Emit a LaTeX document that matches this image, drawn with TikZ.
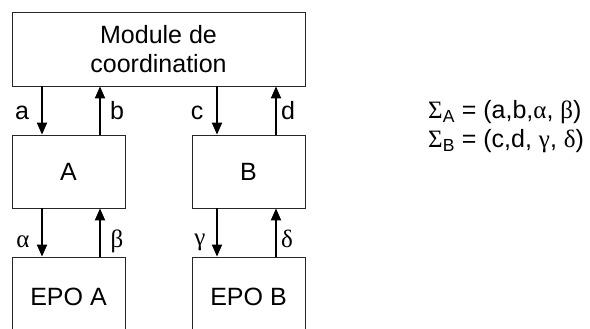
\documentclass[tikz,border=0pt]{standalone}
\usepackage{fontspec}
\setmainfont{Liberation Sans}
\newfontfamily\grfont{Liberation Serif}
\usetikzlibrary{arrows.meta,positioning}
\tikzset{
  box/.style={rectangle,draw=black!85,line width=0.8pt,
              minimum width=113pt,minimum height=73pt,
              align=center,inner sep=0pt},
  arrow/.style={-{Triangle[length=12pt,width=10pt]},line width=2pt},
  lab/.style={inner sep=0pt,text height=18pt,text depth=5pt},
}

\begin{document}
\begin{tikzpicture}[x=1pt,y=-1pt,font=\fontsize{25}{29}\selectfont]
  \useasboundingbox (0,0) rectangle (590,329);
  \clip (0,0) rectangle (590,329);
  % blocs
  \node[box,minimum width=293pt,minimum height=74pt] (coord)
    at (158.5,49) {Module de\\coordination};
  \node[box] (A) at (68.5,171.5) {A};
  \node[box] (B) at (248.5,171.5) {B};
  \node[box,minimum height=80pt] (epoA) at (68.5,297) {EPO A};
  \node[box,minimum height=80pt] (epoB) at (248.5,297) {EPO B};
  % signaux
  \draw[arrow] ([xshift=-116.5]coord.south) -- ([xshift=-26.5]A.north)
    node[lab,midway,xshift=-20,yshift=-3] {a};
  \draw[arrow] ([xshift=31.5]A.north) -- ([xshift=-58.5]coord.south)
    node[lab,midway,xshift=17,yshift=-3] {b};
  \draw[arrow] ([xshift=58.5]coord.south) -- ([xshift=-31.5]B.north)
    node[lab,midway,xshift=-20,yshift=-3] {c};
  \draw[arrow] ([xshift=27.5]B.north) -- ([xshift=117.5]coord.south)
    node[lab,midway,xshift=12,yshift=-3] {d};
  \draw[arrow] ([xshift=-26.5]A.south) -- ([xshift=-26.5]epoA.north)
    node[lab,midway,xshift=-19,yshift=-8] {\grfont α};
  \draw[arrow] ([xshift=31.5]epoA.north) -- ([xshift=31.5]A.south)
    node[lab,midway,xshift=17,yshift=-8] {\grfont β};
  \draw[arrow] ([xshift=-31.5]B.south) -- ([xshift=-31.5]epoB.north)
    node[lab,midway,xshift=-17,yshift=-6] {\grfont γ};
  \draw[arrow] ([xshift=27.5]epoB.north) -- ([xshift=27.5]B.south)
    node[lab,midway,xshift=11,yshift=-8] {\grfont δ};
  % alphabets
  \node[anchor=west,align=left,inner sep=0pt] (sigma) at (428,127)
    {{\grfont Σ}\textsubscript{A} = (a,b,{\grfont α}, {\grfont β})\\
     {\grfont Σ}\textsubscript{B} = (c,d, {\grfont γ}, {\grfont δ})};
\end{tikzpicture}
\end{document}
